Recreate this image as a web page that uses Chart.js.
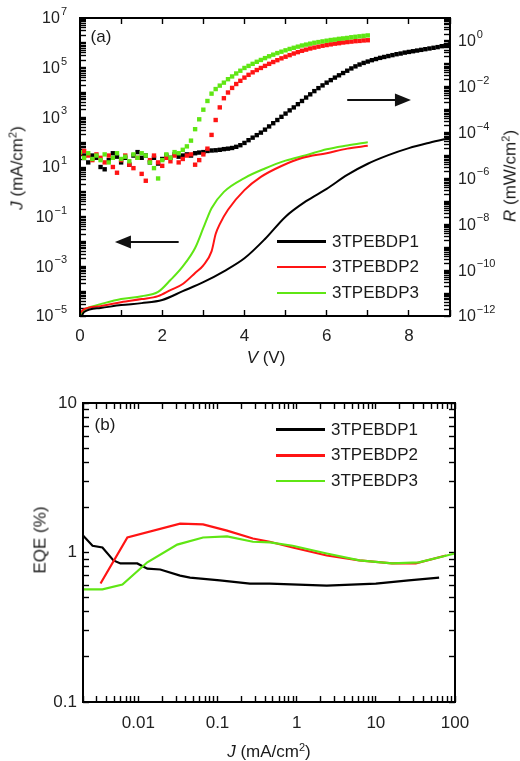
<!DOCTYPE html>
<html>
<head>
<meta charset="utf-8">
<script src="https://cdn.jsdelivr.net/npm/chart.js@4.4.0/dist/chart.umd.min.js"></script>
<style>
  html, body { margin: 0; padding: 0; background: #fff; }
  #wrap { position: relative; width: 520px; height: 761px; font-family: "Liberation Sans", Arial, sans-serif; color: #1a1a1a; }
  canvas { position: absolute; left: 0; }
  #cTop { top: 0; }
  #cBot { top: 375px; }
  .lbl { position: absolute; font-size: 17px; white-space: nowrap; line-height: 1; transform: translate(-50%, -50%); }
  .lbl.rot { transform: translate(-50%, -50%) rotate(-90deg); }
  sup { font-size: 11px; vertical-align: 6px; line-height: 0; }
  .legend { position: absolute; font-size: 17px; }
  .legend .row { height: 25.5px; display: flex; align-items: center; }
  .legend .sw { display: inline-block; width: 49px; margin-right: 6px; }
</style>
</head>
<body>
<div id="wrap">
  <canvas id="cTop" width="520" height="375"></canvas>
  <canvas id="cBot" width="520" height="386"></canvas>

  <div class="lbl" style="left:101px; top:36px;">(a)</div>
  <div class="lbl rot" style="left:17px; top:168px;"><i>J</i> (mA/cm<sup>2</sup>)</div>
  <div class="lbl rot" style="left:510px; top:176px;"><i>R</i> (mW/cm<sup>2</sup>)</div>
  <div class="lbl" style="left:266px; top:357px;"><i>V</i> (V)</div>
  <div class="legend" id="legTop" style="left:277px; top:229px;"></div>

  <div class="lbl" style="left:105px; top:424px;">(b)</div>
  <div class="lbl rot" style="left:40px; top:540px;">EQE (%)</div>
  <div class="lbl" style="left:269px; top:751px;"><i>J</i> (mA/cm<sup>2</sup>)</div>
  <div class="legend" id="legBot" style="left:276px; top:417px;"></div>
</div>

<script>
// series
const seriesNames = ['3TPEBDP1', '3TPEBDP2', '3TPEBDP3'];
const seriesColors = ['#000000', '#ff1414', '#5fe614'];

// (a) current density J (mA/cm2) vs V, left axis
const vJ1 = [0, 0.1, 0.5, 1, 1.5, 2, 2.5, 3, 3.5, 4, 4.5, 5, 5.5, 6, 6.5, 7, 7.5, 8, 8.5, 9];
const j1 = [6.9e-6, 1.45e-5, 2.1e-5, 2.75e-5, 3.3e-5, 4.4e-5, 1.0e-4, 2.3e-4, 6.3e-4, 2.1e-3, 1.26e-2, 0.1, 0.42, 1.32, 4.8, 13.5, 30, 57.5, 95, 148];
const vJ2 = [0, 0.1, 0.5, 1, 1.5, 1.9, 2.2, 2.5, 2.8, 3.0, 3.2, 3.3, 3.4, 3.6, 4.0, 4.4, 4.9, 5.4, 6.0, 6.5, 7.0];
const j2 = [1.3e-5, 1.9e-5, 2.5e-5, 3.6e-5, 4.8e-5, 6.3e-5, 1.1e-4, 1.95e-4, 5.4e-4, 1.1e-3, 4.0e-3, 0.02, 0.05, 0.19, 1.17, 4.0, 11, 23, 36, 55, 71];
const vJ3 = [0, 0.1, 0.25, 0.5, 1, 1.5, 1.9, 2.2, 2.5, 2.8, 3.0, 3.2, 3.5, 4.0, 4.5, 5.0, 5.5, 6.0, 6.5, 7.0];
const j3 = [1e-5, 1.74e-5, 2.3e-5, 3.0e-5, 4.8e-5, 6.3e-5, 9.3e-5, 2.8e-4, 1.0e-3, 5.5e-3, 0.035, 0.22, 1.0, 3.6, 8.7, 18, 30, 52, 74, 100];

// (a) radiance R (mW/cm2), right axis; read as log10(R) at 0.1 V steps
const vR = [0, 0.1, 0.2, 0.3, 0.4, 0.5, 0.6, 0.7, 0.8, 0.9,
  1, 1.1, 1.2, 1.3, 1.4, 1.5, 1.6, 1.7, 1.8, 1.9,
  2, 2.1, 2.2, 2.3, 2.4, 2.5, 2.6, 2.7, 2.8, 2.9,
  3, 3.1, 3.2, 3.3, 3.4, 3.5, 3.6, 3.7, 3.8, 3.9,
  4, 4.1, 4.2, 4.3, 4.4, 4.5, 4.6, 4.7, 4.8, 4.9,
  5, 5.1, 5.2, 5.3, 5.4, 5.5, 5.6, 5.7, 5.8, 5.9,
  6, 6.1, 6.2, 6.3, 6.4, 6.5, 6.6, 6.7, 6.8, 6.9,
  7, 7.1, 7.2, 7.3, 7.4, 7.5, 7.6, 7.7, 7.8, 7.9,
  8, 8.1, 8.2, 8.3, 8.4, 8.5, 8.6, 8.7, 8.8, 8.9, 9];
const rExp1 = [-4.8, -5.0, -5.3, -5.0, -5.1, -5.5, -5.6, -5.2, -4.9, -5.05,
  -5.3, -5.1, -5.4, -5.0, -4.85, -5.1, -5.0, -5.3, -5.1, -5.35,
  -5.15, -5.0, -5.1, -4.95, -5.05, -5.0, -4.95, -5.0, -4.9, -4.87,
  -4.85, -4.8, -4.78, -4.77, -4.75, -4.72, -4.7, -4.67, -4.62, -4.55,
  -4.45, -4.33, -4.22, -4.11, -4.0, -3.87, -3.73, -3.59, -3.45, -3.31,
  -3.17, -3.03, -2.9, -2.76, -2.62, -2.47, -2.33, -2.19, -2.06, -1.94,
  -1.82, -1.71, -1.6, -1.5, -1.4, -1.3, -1.2, -1.11, -1.03, -0.96,
  -0.9, -0.84, -0.79, -0.74, -0.7, -0.66, -0.62, -0.58, -0.55, -0.51,
  -0.48, -0.45, -0.42, -0.39, -0.36, -0.33, -0.3, -0.27, -0.23, -0.19, -0.15];
const rExp2 = [-4.9, -4.8, -5.0, -5.2, -4.95, -5.1, -5.3, -5.0, -5.5, -5.75,
  -5.2, -5.0, -5.4, -5.55, -5.1, -5.8, -6.1, -5.2, -5.0, -5.3,
  -5.45, -5.1, -5.25, -5.0, -5.3, -5.15, -5.0, -4.95, -5.4, -5.2,
  -4.95, -4.7, -4.1, -3.45, -2.9, -2.5, -2.25, -2.05, -1.88, -1.74,
  -1.6, -1.48, -1.37, -1.27, -1.18, -1.09, -1.0, -0.92, -0.84, -0.76,
  -0.69, -0.62, -0.55, -0.49, -0.43, -0.38, -0.33, -0.29, -0.25, -0.21,
  -0.18, -0.15, -0.12, -0.1, -0.07, -0.05, -0.03, -0.01, 0.0, 0.02, 0.03];
const rExp3 = [-4.85, -5.1, -4.9, -5.15, -5.0, -5.2, -4.95, -5.3, -5.1, -4.9,
  -5.15, -5.05, -5.25, -4.95, -5.1, -4.9, -5.0, -5.3, -5.55, -6.0,
  -5.2, -4.95, -5.1, -4.85, -4.9, -4.75, -4.6, -4.35, -3.85, -3.42,
  -3.0, -2.62, -2.3, -2.1, -1.95, -1.82, -1.67, -1.55, -1.42, -1.3,
  -1.18, -1.09, -1.0, -0.91, -0.83, -0.75, -0.67, -0.6, -0.53, -0.47,
  -0.41, -0.35, -0.3, -0.25, -0.2, -0.16, -0.12, -0.08, -0.05, -0.02,
  0.01, 0.04, 0.06, 0.09, 0.11, 0.13, 0.16, 0.18, 0.2, 0.22, 0.24];

// (b) EQE (%) vs J (mA/cm2)
const eqeJ1 = [0.002, 0.00264, 0.00352, 0.00485, 0.00594, 0.0097, 0.013, 0.0189, 0.0337, 0.045, 0.107, 0.257, 0.457, 2.4, 10, 26, 63];
const eqe1 = [1.30, 1.11, 1.08, 0.885, 0.845, 0.845, 0.78, 0.77, 0.70, 0.68, 0.65, 0.62, 0.62, 0.60, 0.62, 0.65, 0.68];
const eqeJ2 = [0.00333, 0.00727, 0.0337, 0.0657, 0.132, 0.28, 0.457, 0.89, 2.4, 6.2, 16, 32, 77];
const eqe2 = [0.62, 1.26, 1.56, 1.54, 1.40, 1.24, 1.18, 1.08, 0.955, 0.885, 0.845, 0.845, 0.955];
const eqeJ3 = [0.002, 0.00352, 0.0063, 0.013, 0.031, 0.0657, 0.132, 0.28, 0.457, 0.89, 2.4, 6.2, 16, 35, 100];
const eqe3 = [0.567, 0.567, 0.61, 0.86, 1.13, 1.26, 1.28, 1.18, 1.17, 1.11, 0.985, 0.885, 0.845, 0.86, 0.985];

// tick labels
const jLabelPowers = [7, 5, 3, 1, -1, -3, -5];
const rLabelPowers = [0, -2, -4, -6, -8, -10, -12];
const vLabels = [0, 2, 4, 6, 8];
const eqeXLabels = [0.01, 0.1, 1, 10, 100];
const eqeYLabels = [0.1, 1, 10];

const FONT = '"Liberation Sans", Arial, sans-serif';

function plainLabel(list) {
  return function(v) {
    const hit = list.find(x => Math.abs(x - v) <= 1e-6 * Math.max(Math.abs(x), 1e-9));
    return hit === undefined ? '' : String(hit);
  };
}
const pairs = (xs, ys) => ys.map((y, i) => ({x: xs[i], y: y}));
const fromExp = exps => exps.map(e => Math.pow(10, e));

// tick positions 1..9 x 10^n inside the scale range (no 1.5 steps)
function decadeTicks(scale) {
  const out = [];
  const e0 = Math.floor(Math.log10(scale.min) + 1e-9), e1 = Math.ceil(Math.log10(scale.max) - 1e-9);
  for (let e = e0; e <= e1; e++) {
    for (let k = 1; k <= 9; k++) {
      const v = k * Math.pow(10, e);
      if (v >= scale.min * 0.999 && v <= scale.max * 1.001) out.push({value: v, major: k === 1});
    }
  }
  scale.ticks = out;
}

// tick marks pointing into the plot (negative tick length)
const inTicks = {display: true, drawOnChartArea: false, drawTicks: true, tickLength: -6, tickColor: '#000', tickWidth: 1.4};

// "10" with a raised exponent, drawn beside an axis
function drawPow(ctx, e, x, y, align) {
  const ex = (e < 0 ? '\u2212' : '') + Math.abs(e);
  ctx.font = '16px ' + FONT;
  const wb = ctx.measureText('10').width;
  ctx.font = '11px ' + FONT;
  const we = ctx.measureText(ex).width;
  const x0 = align === 'right' ? x - wb - we - 1 : x;
  ctx.textBaseline = 'middle';
  ctx.textAlign = 'left';
  ctx.fillStyle = '#222';
  ctx.font = '16px ' + FONT;
  ctx.fillText('10', x0, y + 1);
  ctx.font = '11px ' + FONT;
  ctx.fillText(ex, x0 + wb + 1, y - 6);
}

// frame, power labels and arrows
function makeFrame(cfg) {
  return {
    id: 'frame',
    afterDraw(chart) {
      const ctx = chart.ctx;
      const a = chart.chartArea;
      ctx.save();
      (cfg.powers || []).forEach(pw => {
        const s = chart.scales[pw.id];
        pw.list.forEach(e => {
          const p = s.getPixelForValue(Math.pow(10, e));
          if (pw.side === 'left') drawPow(ctx, e, a.left - 13, p, 'right');
          else drawPow(ctx, e, a.right + 8, p, 'left');
        });
      });
      ctx.strokeStyle = '#000';
      ctx.lineWidth = 2;
      ctx.strokeRect(a.left, a.top, a.right - a.left, a.bottom - a.top);
      (cfg.arrows || []).forEach(ar => {
        const sx = chart.scales[ar.xAxis], sy = chart.scales[ar.yAxis];
        const x1 = sx.getPixelForValue(ar.from[0]), y1 = sy.getPixelForValue(ar.from[1]);
        const x2 = sx.getPixelForValue(ar.to[0]), y2 = sy.getPixelForValue(ar.to[1]);
        const dir = Math.sign(x2 - x1);
        ctx.strokeStyle = '#111';
        ctx.lineWidth = 2;
        ctx.beginPath();
        ctx.moveTo(x1, y1);
        ctx.lineTo(x2 - dir * 12, y2);
        ctx.stroke();
        ctx.fillStyle = '#111';
        ctx.beginPath();
        ctx.moveTo(x2, y2);
        ctx.lineTo(x2 - dir * 16, y2 - 6.5);
        ctx.lineTo(x2 - dir * 16, y2 + 6.5);
        ctx.closePath();
        ctx.fill();
      });
      ctx.restore();
    }
  };
}

const tickFontB = {family: FONT, size: 17};

// (a)
new Chart(document.getElementById('cTop'), {
  type: 'scatter',
  data: {
    datasets: [
      {label: seriesNames[0], data: pairs(vJ1, j1), yAxisID: 'yJ', showLine: true, borderColor: seriesColors[0], borderWidth: 2, pointRadius: 0, cubicInterpolationMode: 'monotone', order: 4},
      {label: seriesNames[1], data: pairs(vJ2, j2), yAxisID: 'yJ', showLine: true, borderColor: seriesColors[1], borderWidth: 2, pointRadius: 0, cubicInterpolationMode: 'monotone', order: 5},
      {label: seriesNames[2], data: pairs(vJ3, j3), yAxisID: 'yJ', showLine: true, borderColor: seriesColors[2], borderWidth: 2, pointRadius: 0, cubicInterpolationMode: 'monotone', order: 6},
      {label: seriesNames[0] + ' R', data: pairs(vR, fromExp(rExp1)), yAxisID: 'yR', pointStyle: 'rect', pointRadius: 3.1, borderWidth: 0, backgroundColor: seriesColors[0], order: 3},
      {label: seriesNames[1] + ' R', data: pairs(vR, fromExp(rExp2)), yAxisID: 'yR', pointStyle: 'rect', pointRadius: 3.1, borderWidth: 0, backgroundColor: seriesColors[1], order: 2},
      {label: seriesNames[2] + ' R', data: pairs(vR, fromExp(rExp3)), yAxisID: 'yR', pointStyle: 'rect', pointRadius: 3.1, borderWidth: 0, backgroundColor: seriesColors[2], order: 1}
    ]
  },
  options: {
    responsive: false,
    animation: false,
    layout: {padding: {top: 18, left: 0, right: 0, bottom: 0}},
    plugins: {legend: {display: false}, tooltip: {enabled: false}},
    scales: {
      x: {
        type: 'linear', position: 'bottom', min: 0, max: 9,
        grid: inTicks, border: {display: false},
        ticks: {stepSize: 1, autoSkip: false, maxRotation: 0, padding: 16, color: '#222', font: tickFontB, callback: plainLabel(vLabels)},
        afterFit: s => { s.height = 59; }
      },
      xTop: {
        type: 'linear', position: 'top', min: 0, max: 9,
        grid: inTicks, border: {display: false},
        ticks: {display: false, stepSize: 1},
        afterFit: s => { s.height = 0; }
      },
      yJ: {
        type: 'logarithmic', position: 'left', min: 1e-5, max: 1e7,
        grid: inTicks, border: {display: false},
        ticks: {display: false},
        afterBuildTicks: decadeTicks,
        afterFit: s => { s.width = 80; }
      },
      yR: {
        type: 'logarithmic', position: 'right', min: 1e-12, max: 10,
        grid: inTicks, border: {display: false},
        ticks: {display: false},
        afterBuildTicks: decadeTicks,
        afterFit: s => { s.width = 70; }
      }
    }
  },
  plugins: [makeFrame({
    powers: [
      {id: 'yJ', side: 'left', list: jLabelPowers},
      {id: 'yR', side: 'right', list: rLabelPowers}
    ],
    arrows: [
      {xAxis: 'x', yAxis: 'yJ', from: [6.5, 5000], to: [8.05, 5000]},
      {xAxis: 'x', yAxis: 'yJ', from: [2.4, 0.0095], to: [0.85, 0.0095]}
    ]
  })]
});

// (b)
new Chart(document.getElementById('cBot'), {
  type: 'scatter',
  data: {
    datasets: [
      {label: seriesNames[0], data: pairs(eqeJ1, eqe1), showLine: true, borderColor: seriesColors[0], borderWidth: 2.2, pointRadius: 0, order: 3},
      {label: seriesNames[1], data: pairs(eqeJ2, eqe2), showLine: true, borderColor: seriesColors[1], borderWidth: 2.2, pointRadius: 0, order: 2},
      {label: seriesNames[2], data: pairs(eqeJ3, eqe3), showLine: true, borderColor: seriesColors[2], borderWidth: 2.2, pointRadius: 0, order: 1}
    ]
  },
  options: {
    responsive: false,
    animation: false,
    layout: {padding: {top: 28, left: 0, right: 0, bottom: 0}},
    plugins: {legend: {display: false}, tooltip: {enabled: false}},
    scales: {
      x: {
        type: 'logarithmic', position: 'bottom', min: 0.002, max: 100,
        grid: inTicks, border: {display: false},
        ticks: {autoSkip: false, maxRotation: 0, padding: 17, color: '#222', font: tickFontB, callback: plainLabel(eqeXLabels)},
        afterBuildTicks: decadeTicks,
        afterFit: s => { s.height = 59; }
      },
      xTop: {
        type: 'logarithmic', position: 'top', min: 0.002, max: 100,
        grid: inTicks, border: {display: false},
        ticks: {display: false},
        afterBuildTicks: decadeTicks,
        afterFit: s => { s.height = 0; }
      },
      y: {
        type: 'logarithmic', position: 'left', min: 0.1, max: 10,
        grid: inTicks, border: {display: false},
        ticks: {autoSkip: false, padding: 12, color: '#222', font: tickFontB, callback: plainLabel(eqeYLabels)},
        afterBuildTicks: decadeTicks,
        afterFit: s => { s.width = 83; }
      },
      yRight: {
        type: 'logarithmic', position: 'right', min: 0.1, max: 10,
        grid: inTicks, border: {display: false},
        ticks: {display: false},
        afterBuildTicks: decadeTicks,
        afterFit: s => { s.width = 65; }
      }
    }
  },
  plugins: [makeFrame({})]
});

// legends
function buildLegend(el, widths) {
  seriesNames.forEach((n, i) => {
    const row = document.createElement('div');
    row.className = 'row';
    const sw = document.createElement('span');
    sw.className = 'sw';
    sw.style.height = widths[i] + 'px';
    sw.style.background = seriesColors[i];
    const tx = document.createElement('span');
    tx.textContent = n;
    row.appendChild(sw);
    row.appendChild(tx);
    el.appendChild(row);
  });
}
buildLegend(document.getElementById('legTop'), [3, 2, 2]);
buildLegend(document.getElementById('legBot'), [3, 2.5, 2.5]);
</script>
</body>
</html>
